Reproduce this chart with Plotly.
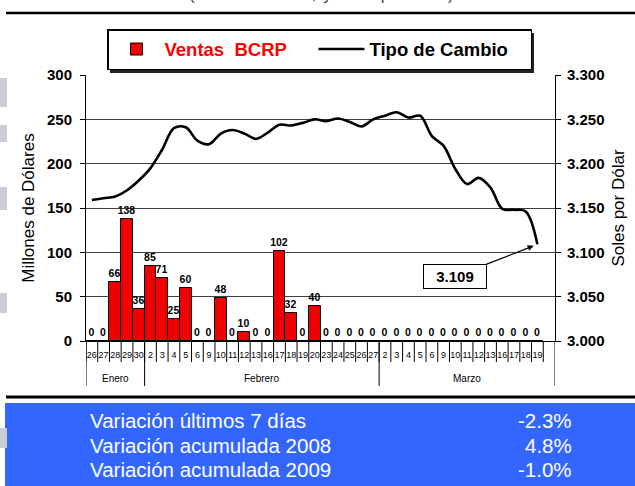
import plotly.graph_objects as go

# ---------------- data ----------------
jan_days = ["26", "27", "28", "29", "30"]
feb_days = ["2", "3", "4", "5", "6", "9", "10", "11", "12", "13", "16", "17", "18", "19", "20",
            "23", "24", "25", "26", "27"]
mar_days = ["2", "3", "4", "5", "6", "9", "10", "11", "12", "13", "16", "17", "18", "19"]
months = ["Enero", "Febrero", "Marzo"]

ventas_bcrp = [0, 0, 66, 138, 36,
               85, 71, 25, 60, 0, 0, 48, 0, 10, 0, 0, 102, 32, 0, 40, 0, 0, 0, 0, 0,
               0, 0, 0, 0, 0, 0, 0, 0, 0, 0, 0, 0, 0, 0]

tipo_cambio = [3.159, 3.161, 3.163, 3.170, 3.181,
               3.195, 3.216, 3.240, 3.241, 3.226, 3.222, 3.234, 3.238, 3.234, 3.228,
               3.235, 3.244, 3.243, 3.246, 3.250, 3.248, 3.251, 3.247, 3.242, 3.250,
               3.254, 3.258, 3.252, 3.254, 3.231, 3.220, 3.194, 3.177, 3.184, 3.173,
               3.149, 3.148, 3.146, 3.109]

last_value_label = "3.109"

stat_labels = ["Variación últimos 7 días", "Variación acumulada 2008", "Variación acumulada 2009"]
stat_values = ["-2.3%", "4.8%", "-1.0%"]

top_subtitle = "(Millones de US$ y soles por dólar)"

# ---------------- derived positions ----------------
day_labels = jan_days + feb_days + mar_days
x_pos = list(range(len(day_labels)))
n_slots = len(day_labels) + 1          # one empty slot at the end of March
group_sizes = [len(jan_days), len(feb_days), len(mar_days) + 1]

# pixel geometry of the plotting area (used for layout placement only)
W, H = 635, 486
L, R, T, B = 86, 80, 75, 145
PW, PH = W - L - R, H - T - B


def px_x(p):
    return (p - L) / PW


def px_y(p):
    return (H - B - p) / PH


FONT = "Liberation Sans, Arial, sans-serif"

fig = go.Figure()

fig.add_trace(go.Bar(
    x=x_pos, y=ventas_bcrp, name="<span style='color:#FF0000'><b>Ventas  BCRP</b></span>",
    marker=dict(color="#F00000", line=dict(color="black", width=1)),
    width=1.0,
    text=[str(v) for v in ventas_bcrp], textposition="outside",
    constraintext="none", cliponaxis=False,
    textfont=dict(family=FONT, size=10.5, color="black", weight="bold"),
    legendwidth=144,
))

fig.add_trace(go.Scatter(
    x=x_pos, y=tipo_cambio, yaxis="y2", mode="lines",
    name="<b>Tipo de Cambio</b>",
    line=dict(color="black", width=2.6, shape="spline", smoothing=1.0),
    legendwidth=156,
))

shapes = []
# separators between the day cells
for i in range(len(day_labels) + 1):
    b = i - 0.5
    shapes.append(dict(type="line", xref="x", yref="paper", x0=b, x1=b,
                       y0=0, y1=px_y(362), line=dict(color="black", width=1)))
# month group separators
start = 0
bounds = [-0.5]
for g in group_sizes:
    start += g
    bounds.append(start - 0.5)
for b in bounds:
    shapes.append(dict(type="line", xref="x", yref="paper", x0=b, x1=b,
                       y0=0, y1=px_y(386), line=dict(color="black", width=1)))

# top black rule
shapes.append(dict(type="line", xref="paper", yref="paper", x0=px_x(6), x1=px_x(635),
                   y0=px_y(13), y1=px_y(13), line=dict(color="black", width=2.5)))
# legend shadow
shapes.append(dict(type="rect", xref="paper", yref="paper", x0=px_x(110), x1=px_x(534),
                   y0=px_y(73), y1=px_y(33), fillcolor="#222222", line=dict(width=0)))
# bottom rule and blue panel
shapes.append(dict(type="line", xref="paper", yref="paper", x0=px_x(6), x1=px_x(635),
                   y0=px_y(397), y1=px_y(397), line=dict(color="black", width=3)))
shapes.append(dict(type="rect", xref="paper", yref="paper", x0=px_x(5), x1=px_x(636),
                   y0=px_y(487), y1=px_y(403), fillcolor="#3366FF", line=dict(width=0),
                   layer="below"))
# faint slide decorations on the left edge
for (a, b_) in [(78, 107), (125, 142), (187, 210), (293, 313), (428, 448)]:
    shapes.append(dict(type="rect", xref="paper", yref="paper", x0=px_x(0), x1=px_x(7),
                       y0=px_y(b_), y1=px_y(a), fillcolor="#C9CDD8", line=dict(width=0),
                       layer="below" if a < 400 else "above"))

annotations = []
# month labels
start = 0
for m, g in zip(months, group_sizes):
    center = start + (g - 1) / 2
    annotations.append(dict(x=center, y=px_y(378), xref="x", yref="paper", text=m,
                            showarrow=False, xanchor="center", yanchor="middle",
                            font=dict(family=FONT, size=10, color="black")))
    start += g

# last value callout
annotations.append(dict(x=x_pos[-1], y=tipo_cambio[-1], xref="x", yref="y2",
                        text="<b>" + last_value_label + "</b>", showarrow=True,
                        ax=-82, ay=32, arrowhead=2, arrowsize=1, arrowwidth=1.2,
                        arrowcolor="black", standoff=4,
                        bgcolor="white", bordercolor="black", borderwidth=1,
                        width=60, height=21, borderpad=1,
                        font=dict(family=FONT, size=15, color="black")))

# subtitle at the very top (cut by the page edge as in the source slide)
annotations.append(dict(x=px_x(321), y=px_y(6), xref="paper", yref="paper",
                        text=top_subtitle, showarrow=False, xanchor="center", yanchor="bottom",
                        font=dict(family=FONT, size=17, color="#444444")))

# statistics table
rows_y = [420, 445, 469]
for lab, val, ry in zip(stat_labels, stat_values, rows_y):
    annotations.append(dict(x=px_x(88), y=px_y(ry), xref="paper", yref="paper", text=lab,
                            showarrow=False, xanchor="left", yanchor="middle",
                            font=dict(family=FONT, size=20.5, color="white")))
    annotations.append(dict(x=px_x(574), y=px_y(ry), xref="paper", yref="paper", text=val,
                            showarrow=False, xanchor="right", yanchor="middle",
                            font=dict(family=FONT, size=20.5, color="white")))

fig.update_layout(
    width=W, height=H,
    margin=dict(l=L, r=R, t=T, b=B, autoexpand=False),
    paper_bgcolor="white", plot_bgcolor="white",
    bargap=0,
    showlegend=True,
    legend=dict(orientation="h", x=px_x(107), y=px_y(29), xanchor="left", yanchor="top",
                bgcolor="white", bordercolor="black", borderwidth=1.5,
                font=dict(family=FONT, size=18.5, color="black"),
                itemwidth=46, traceorder="normal"),
    xaxis=dict(range=[-0.5, n_slots - 0.5], tickmode="array", tickvals=x_pos, ticktext=day_labels,
               ticks="", tickangle=0, showgrid=False, zeroline=False, showline=True,
               linecolor="black", linewidth=1, ticklabelstandoff=5,
               tickfont=dict(family="Liberation Sans Narrow, " + FONT, size=9, color="black")),
    yaxis=dict(range=[0, 300], dtick=50, ticks="outside", ticklen=5, tickcolor="black",
               showline=True, linecolor="black", linewidth=1, showgrid=True,
               gridcolor="#404040", gridwidth=1, zeroline=False, ticklabelstandoff=5,
               tickfont=dict(family=FONT, size=15, color="black", weight="bold"),
               title=dict(text="Millones de Dólares", standoff=8,
                          font=dict(family=FONT, size=17, color="black"))),
    yaxis2=dict(range=[3.0, 3.3], dtick=0.05, tickformat=".3f", overlaying="y", side="right",
                ticks="outside", ticklen=5, tickcolor="black", showline=True, linecolor="black",
                linewidth=1, showgrid=False, zeroline=False, ticklabelstandoff=3,
                tickfont=dict(family=FONT, size=15, color="black", weight="bold"),
                title=dict(text="Soles por Dólar", standoff=8,
                           font=dict(family=FONT, size=17, color="black"))),
    shapes=shapes,
    annotations=annotations,
)

fig.write_html("out.html", config={"displayModeBar": False},
               post_script="document.body.style.margin='0px';")
